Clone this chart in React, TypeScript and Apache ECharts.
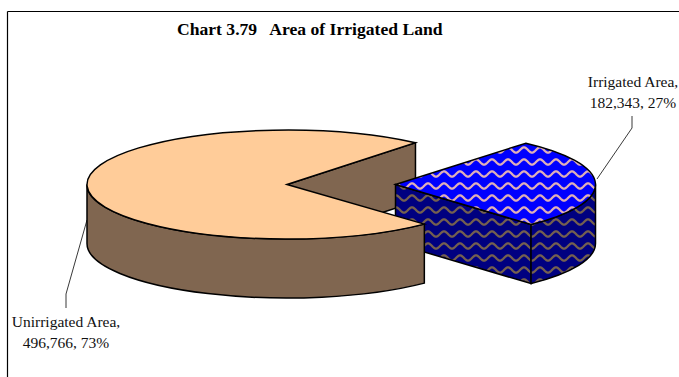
import React, { useEffect, useRef } from "react";
import * as echarts from "echarts";

const chartTitle = "Chart 3.79   Area of Irrigated Land";
const categories = ["Irrigated Area", "Unirrigated Area"];
const areaValues = [182343, 496766];
const percentLabels = ["27%", "73%"];

const CX = 287, CY = 184.5, RX = 200, RY = 54.5, DEPTH = 59, EXPLODE = 108.5;
const TILT_BLUE = 1, TILT_MAIN = 1.7;

function wavePattern(bg: string, wave: string) {
  const w = 16, h = 12;
  const c = document.createElement("canvas");
  c.width = w; c.height = h;
  const g = c.getContext("2d")!;
  g.fillStyle = bg;
  g.fillRect(0, 0, w, h);
  g.strokeStyle = wave;
  g.lineWidth = 2.3;
  g.beginPath();
  for (let x = -1; x <= w + 1; x += 0.5) {
    const y = 6 + 2.6 * Math.sin((x / w) * Math.PI * 2);
    if (x === -1) g.moveTo(x, y); else g.lineTo(x, y);
  }
  g.stroke();
  return { image: c.toDataURL(), repeat: "repeat" };
}

function pt(cx: number, cy: number, deg: number) {
  const r = (deg * Math.PI) / 180;
  return [cx + RX * Math.cos(r), cy + RY * Math.sin(r)];
}

function sectorPath(cx: number, cy: number, a0: number, a1: number) {
  const p0 = pt(cx, cy, a0), p1 = pt(cx, cy, a1);
  const large = a1 - a0 > 180 ? 1 : 0;
  return `M${cx} ${cy}L${p0[0]} ${p0[1]}A${RX} ${RY} 0 ${large} 1 ${p1[0]} ${p1[1]}Z`;
}

function sidePath(cx: number, cy: number, a0: number, a1: number) {
  const p0 = pt(cx, cy, a0), p1 = pt(cx, cy, a1);
  return `M${p0[0]} ${p0[1]}A${RX} ${RY} 0 0 1 ${p1[0]} ${p1[1]}L${p1[0]} ${p1[1] + DEPTH}A${RX} ${RY} 0 0 0 ${p0[0]} ${p0[1] + DEPTH}Z`;
}

function quadPath(a: number[], b: number[]) {
  return `M${a[0]} ${a[1]}L${b[0]} ${b[1]}L${b[0]} ${b[1] + DEPTH}L${a[0]} ${a[1] + DEPTH}Z`;
}

export default function App() {
  const ref = useRef<HTMLDivElement>(null);
  useEffect(() => {
    const chart = echarts.init(ref.current!, undefined, { renderer: "svg" });
    const total = areaValues.reduce((a, b) => a + b, 0);
    const sweep = (areaValues[0] / total) * 360;
    const blueTop = wavePattern("#0000ff", "#e0b0b8");
    const blueSide = wavePattern("#000080", "#75604f");
    const line = { stroke: "#000", lineWidth: 1.5 };
    const thin = { stroke: "#222", lineWidth: 0.9, fill: "none" };
    const labelFont = "15.5px 'Liberation Serif'";

    chart.setOption({
      animation: false,
      backgroundColor: "#fff",
      title: {
        text: chartTitle,
        left: 177,
        top: 20,
        padding: 0,
        textStyle: { fontFamily: "Liberation Serif", fontWeight: "bold", fontSize: 17.6, color: "#000" },
      },
      graphic: [
        { type: "line", shape: { x1: 7.5, y1: 11.5, x2: 679, y2: 11.5 }, style: { stroke: "#000", lineWidth: 1.2 } },
        { type: "line", shape: { x1: 7.5, y1: 11.5, x2: 7.5, y2: 377 }, style: { stroke: "#000", lineWidth: 1.2 } },
      ],
      series: [
        {
          type: "custom",
          coordinateSystem: "none",
          data: areaValues.map((v, i) => ({ value: [v], name: categories[i] })),
          renderItem: (params: any, api: any) => {
            const i = params.dataIndex;
            const label = `${categories[i]},\n${api.value(0).toLocaleString("en-US")}, ${percentLabels[i]}`;
            if (i === 0) {
              const a0 = -TILT_BLUE - sweep / 2, a1 = -TILT_BLUE + sweep / 2;
              const cx = CX + EXPLODE, cy = CY;
              const apex = [cx, cy];
              const e = pt(cx, cy, a1);
              return {
                type: "group",
                children: [
                  { type: "polyline", z2: 1, shape: { points: [[597, 179], [632, 128], [632, 116]] }, style: thin },
                  { type: "path", z2: 2, shape: { pathData: quadPath(apex, e) }, style: { fill: blueSide, ...line } },
                  { type: "path", z2: 2, shape: { pathData: sidePath(cx, cy, 0, a1) }, style: { fill: blueSide, ...line } },
                  { type: "path", z2: 3, shape: { pathData: sectorPath(cx, cy, a0, a1) }, style: { fill: blueTop, ...line } },
                  { type: "text", z2: 9, style: { text: label, x: 633, y: 71, align: "center", verticalAlign: "top", font: labelFont, lineHeight: 21, fill: "#111" } },
                ],
              };
            }
            const a0 = -TILT_MAIN - sweep / 2, a1 = -TILT_MAIN + sweep / 2;
            const apex = [CX, CY];
            const back = pt(CX, CY, a0);
            return {
              type: "group",
              children: [
                { type: "polyline", z2: 0, shape: { points: [[87, 220], [66, 294], [66, 308]] }, style: thin },
                { type: "path", z2: 1, shape: { pathData: quadPath(apex, back) }, style: { fill: "#806650", ...line } },
                { type: "path", z2: 4, shape: { pathData: sidePath(CX, CY, a1, 180) }, style: { fill: "#806650", ...line } },
                { type: "path", z2: 5, shape: { pathData: sectorPath(CX, CY, a1, a0 + 360) }, style: { fill: "#ffcc99", ...line } },
                { type: "text", z2: 9, style: { text: label, x: 66, y: 311, align: "center", verticalAlign: "top", font: labelFont, lineHeight: 21, fill: "#111" } },
              ],
            };
          },
        },
      ],
    });
    return () => chart.dispose();
  }, []);
  return <div ref={ref} style={{ position: "absolute", left: 0, top: 0, width: 679, height: 377 }} />;
}
